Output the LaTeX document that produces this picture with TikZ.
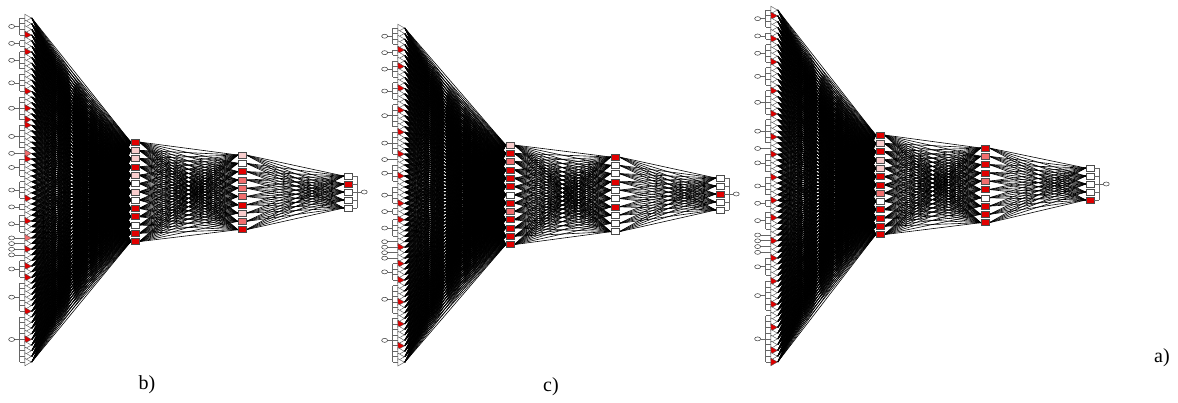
\documentclass[tikz,border=0pt]{standalone}
\usepackage{fontspec}
\setmainfont{Liberation Serif}
\usetikzlibrary{shapes.geometric,backgrounds,calc}

\definecolor{W}{RGB}{255,255,255}
\definecolor{R}{RGB}{225,0,0}
\definecolor{P}{RGB}{240,110,110}
\definecolor{L}{RGB}{248,205,205}

\tikzset{
  inp/.style={isosceles triangle, isosceles triangle apex angle=60, draw=black!70,
    line width=0.4pt, inner sep=0pt, minimum size=6.5pt},
  hid/.style={rectangle, draw=black!70, line width=0.5pt, inner sep=0pt,
    minimum width=8pt, minimum height=6pt},
  fac/.style={ellipse, draw=black!80, line width=0.5pt, inner sep=0pt,
    minimum width=6pt, minimum height=4pt, fill=white},
  wire/.style={line width=0.6pt, black},
  brace/.style={draw=black!60, line width=0.7pt},
  lab/.style={font=\fontsize{20}{23}\selectfont, inner sep=0pt},
}

% input groups (first/last input of each factor)
\def\groups{1/4,5/6,7/10,11/14,15/19,20/24,25/25,26/29,30/33,34/35,36/39,
  40/40,41/41,42/42,43/43,44/47,48/53,54/62}

% #1 name, #2 input x, #3 input top, #4 input step, #5 hidden-1 x,
% #6 hidden-1 top, #7 hidden-2 x, #8 hidden-2 top, #9 output x
% colours and output top come from \incol, \hcolA, \hcolB, \ocol, \otop
\newcommand{\netpanel}[9]{%
  % input layer
  \foreach \c [count=\i] in \incol
    \node[inp, fill=\c] (#1i\i) at (#2, {#3+(\i-1)*#4}) {};
  % hidden layers
  \foreach \c [count=\j] in \hcolA
    \node[hid, fill=\c] (#1h\j) at (#5, {#6+(\j-1)*8.3}) {};
  \foreach \c [count=\j] in \hcolB
    \node[hid, fill=\c] (#1k\j) at (#7, {#8+(\j-1)*8.3}) {};
  % output layer
  \foreach \c [count=\j] in \ocol
    \node[hid, fill=\c] (#1o\j) at (#9, {\otop+(\j-1)*8}) {};
  % factor brackets on the inputs
  \foreach \s/\e in \groups {
    \foreach \k in {\s,...,\e}
      \draw[brace] (#1i\k.west) -- ++(-5,0);
    \draw[brace] ([xshift=-5pt]#1i\s.west) -- ([xshift=-5pt]#1i\e.west);
    \node[fac] (#1f\s) at ($(#1i\s.west)!0.5!(#1i\e.west)+(-13,0)$) {};
    \draw[brace] (#1f\s) -- ++(8,0);
  }
  % output bracket
  \foreach \j in {1,...,5}
    \draw[brace] (#1o\j.east) -- ++(5,0);
  \draw[brace] ([xshift=5pt]#1o1.east) -- ([xshift=5pt]#1o5.east);
  \node[fac] (#1out) at ($(#1o3.east)+(12,0)$) {};
  \draw[brace] (#1out) -- ++(-7,0);
  % weights
  \begin{pgfonlayer}{background}
    \foreach \i in {1,...,62}
      \foreach \j in {1,...,13}
        \draw[wire] (#1i\i.apex) -- (#1h\j.west);
    \foreach \i in {1,...,13}
      \foreach \j in {1,...,10}
        \draw[wire] (#1h\i.east) -- (#1k\j.west);
    \foreach \i in {1,...,10}
      \foreach \j in {1,...,5}
        \draw[wire] (#1k\i.east) -- (#1o\j.west);
  \end{pgfonlayer}
}

\begin{document}
\begin{tikzpicture}[x=1pt, y=-1pt]
  \useasboundingbox (0,0) rectangle (1178,402);

  % b)
  \def\incol{W,W,W,R,W,W,R,W,W,W,W,W,W,R,W,W,R,W,R,R,W,W,W,W,P,R,W,W,W,W,W,
    W,R,W,W,W,R,W,W,P,W,R,W,W,R,W,R,W,W,W,W,W,R,W,W,W,W,R,W,W,W,W}
  \def\hcolA{R,L,L,R,L,W,L,W,R,R,W,R,R}
  \def\hcolB{L,W,R,P,P,P,R,L,P,R}
  \def\ocol{W,R,W,W,W}
  \def\otop{176}
  \netpanel{b}{27}{18}{5.64}{135}{142}{242}{155}{348}

  % c)
  \def\incol{W,W,W,W,R,W,W,R,W,W,W,R,W,W,W,R,W,W,W,R,W,W,W,R,W,W,W,R,W,W,W,
    W,R,W,W,R,W,W,W,W,R,W,W,R,W,W,R,W,W,W,R,W,W,W,R,W,W,W,R,W,W,W}
  \def\hcolA{L,R,P,R,R,R,W,R,P,R,R,R,R}
  \def\hcolB{R,W,W,R,W,W,R,W,W,W}
  \def\ocol{W,W,R,W,W}
  \def\otop{178}
  \netpanel{c}{400}{28}{5.48}{510}{145}{615}{157}{720}

  % a)
  \def\incol{W,R,W,W,W,R,W,W,W,R,W,W,W,W,R,W,W,W,R,W,W,W,R,W,W,R,W,W,W,R,W,
    W,W,R,W,W,R,W,W,W,R,W,W,R,W,W,W,R,W,W,W,R,W,W,W,R,W,W,W,R,W,R}
  \def\hcolA{R,L,R,L,L,R,R,P,W,R,R,R,R}
  \def\hcolB{R,P,R,R,P,R,W,R,R,R}
  \def\ocol{W,W,W,W,R}
  \def\otop{168}
  \netpanel{a}{773}{10}{5.77}{880}{135}{985}{148}{1090}

  % panel labels
  \node[lab] (labb) at (147,385) {b)};
  \node[lab] (labc) at (551,387) {c)};
  \node[lab] (laba) at (1162,358) {a)};
\end{tikzpicture}
\end{document}
